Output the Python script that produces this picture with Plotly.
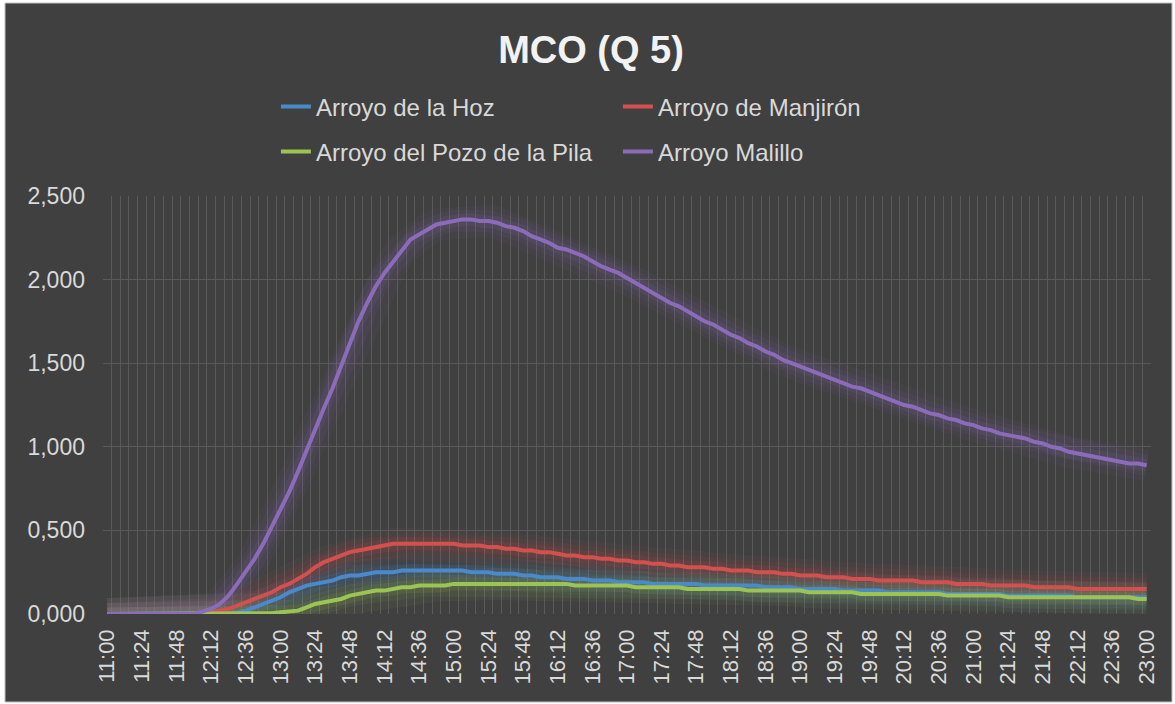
import plotly.graph_objects as go

# Time categories every 6 minutes from 11:00 to 23:00
times = [f"{(660 + 6 * k) // 60}:{(660 + 6 * k) % 60:02d}" for k in range(121)]
tick_text = [t if k % 4 == 0 else "" for k, t in enumerate(times)]

hoz = [
    0, 0, 0, 0, 0, 0, 0, 0, 0, 0,
    0, 0, 0, 0, 0.005, 0.01, 0.02, 0.04, 0.06, 0.08,
    0.10, 0.13, 0.15, 0.17, 0.18, 0.19, 0.20, 0.22, 0.23, 0.23,
    0.24, 0.25, 0.25, 0.25, 0.26, 0.26, 0.26, 0.26, 0.26, 0.26,
    0.26, 0.26, 0.25, 0.25, 0.25, 0.24, 0.24, 0.24, 0.23, 0.23,
    0.22, 0.22, 0.22, 0.21, 0.21, 0.21, 0.20, 0.20, 0.20, 0.19,
    0.19, 0.19, 0.19, 0.18, 0.18, 0.18, 0.18, 0.18, 0.18, 0.17,
    0.17, 0.17, 0.17, 0.17, 0.17, 0.17, 0.16, 0.16, 0.16, 0.16,
    0.15, 0.15, 0.15, 0.15, 0.15, 0.14, 0.14, 0.14, 0.14, 0.14,
    0.13, 0.13, 0.13, 0.13, 0.13, 0.13, 0.13, 0.12, 0.12, 0.12,
    0.12, 0.12, 0.12, 0.12, 0.11, 0.11, 0.11, 0.11, 0.11, 0.11,
    0.11, 0.11, 0.10, 0.10, 0.10, 0.10, 0.10, 0.10, 0.10, 0.10,
    0.10,
]

manjiron = [
    0, 0, 0, 0, 0, 0, 0, 0, 0, 0,
    0, 0, 0.01, 0.02, 0.03, 0.05, 0.07, 0.09, 0.11, 0.13,
    0.16, 0.18, 0.21, 0.24, 0.28, 0.31, 0.33, 0.35, 0.37, 0.38,
    0.39, 0.40, 0.41, 0.42, 0.42, 0.42, 0.42, 0.42, 0.42, 0.42,
    0.42, 0.41, 0.41, 0.41, 0.40, 0.40, 0.39, 0.39, 0.38, 0.38,
    0.37, 0.37, 0.36, 0.35, 0.35, 0.34, 0.34, 0.33, 0.33, 0.32,
    0.32, 0.31, 0.31, 0.30, 0.30, 0.29, 0.29, 0.28, 0.28, 0.28,
    0.27, 0.27, 0.26, 0.26, 0.26, 0.25, 0.25, 0.25, 0.24, 0.24,
    0.23, 0.23, 0.23, 0.22, 0.22, 0.22, 0.21, 0.21, 0.21, 0.20,
    0.20, 0.20, 0.20, 0.20, 0.19, 0.19, 0.19, 0.19, 0.18, 0.18,
    0.18, 0.18, 0.17, 0.17, 0.17, 0.17, 0.17, 0.16, 0.16, 0.16,
    0.16, 0.16, 0.15, 0.15, 0.15, 0.15, 0.15, 0.15, 0.15, 0.15,
    0.15,
]

pozo_pila = [
    0, 0, 0, 0, 0, 0, 0, 0, 0, 0,
    0, 0, 0, 0, 0, 0, 0, 0, 0, 0.005,
    0.01, 0.015, 0.02, 0.04, 0.06, 0.07, 0.08, 0.09, 0.11, 0.12,
    0.13, 0.14, 0.14, 0.15, 0.16, 0.16, 0.17, 0.17, 0.17, 0.17,
    0.18, 0.18, 0.18, 0.18, 0.18, 0.18, 0.18, 0.18, 0.18, 0.18,
    0.18, 0.18, 0.18, 0.18, 0.17, 0.17, 0.17, 0.17, 0.17, 0.17,
    0.17, 0.16, 0.16, 0.16, 0.16, 0.16, 0.16, 0.15, 0.15, 0.15,
    0.15, 0.15, 0.15, 0.15, 0.14, 0.14, 0.14, 0.14, 0.14, 0.14,
    0.14, 0.13, 0.13, 0.13, 0.13, 0.13, 0.13, 0.12, 0.12, 0.12,
    0.12, 0.12, 0.12, 0.12, 0.12, 0.12, 0.12, 0.11, 0.11, 0.11,
    0.11, 0.11, 0.11, 0.11, 0.10, 0.10, 0.10, 0.10, 0.10, 0.10,
    0.10, 0.10, 0.10, 0.10, 0.10, 0.10, 0.10, 0.10, 0.10, 0.09,
    0.09,
]

malillo = [
    0, 0, 0, 0, 0, 0, 0, 0, 0, 0,
    0, 0.015, 0.03, 0.06, 0.11, 0.18, 0.25, 0.33, 0.42, 0.52,
    0.62, 0.73, 0.85, 0.98, 1.10, 1.23, 1.35, 1.48, 1.62, 1.75,
    1.86, 1.96, 2.04, 2.11, 2.18, 2.24, 2.27, 2.30, 2.33, 2.34,
    2.35, 2.36, 2.36, 2.35, 2.35, 2.34, 2.32, 2.31, 2.29, 2.26,
    2.24, 2.22, 2.19, 2.18, 2.16, 2.14, 2.11, 2.08, 2.06, 2.04,
    2.01, 1.98, 1.95, 1.92, 1.89, 1.86, 1.84, 1.81, 1.78, 1.75,
    1.73, 1.70, 1.67, 1.65, 1.62, 1.60, 1.57, 1.55, 1.52, 1.50,
    1.48, 1.46, 1.44, 1.42, 1.40, 1.38, 1.36, 1.35, 1.33, 1.31,
    1.29, 1.27, 1.25, 1.24, 1.22, 1.20, 1.19, 1.17, 1.16, 1.14,
    1.13, 1.11, 1.10, 1.08, 1.07, 1.06, 1.05, 1.03, 1.02, 1.00,
    0.99, 0.97, 0.96, 0.95, 0.94, 0.93, 0.92, 0.91, 0.90, 0.90,
    0.89,
]

series = [
    ("Arroyo de la Hoz", hoz, (74, 137, 204), "legend"),
    ("Arroyo de Manjirón", manjiron, (212, 80, 78), "legend"),
    ("Arroyo del Pozo de la Pila", pozo_pila, (156, 196, 83), "legend2"),
    ("Arroyo Malillo", malillo, (140, 108, 186), "legend2"),
]

fig = go.Figure()

# Soft glow beneath each line
for name, vals, rgb, _ in series:
    for w, a in [(32, 0.06), (22, 0.08), (13, 0.11)]:
        fig.add_trace(go.Scatter(
            x=times, y=vals, mode="lines",
            line=dict(color=f"rgba({rgb[0]},{rgb[1]},{rgb[2]},{a})", width=w),
            showlegend=False, hoverinfo="skip",
        ))

for name, vals, rgb, leg in series:
    fig.add_trace(go.Scatter(
        x=times, y=vals, mode="lines", name=name, legend=leg,
        line=dict(color=f"rgb({rgb[0]},{rgb[1]},{rgb[2]})", width=4),
    ))

text_color = "#d9d9d9"
grid_color = "#5a5a5a"
font_family = "Liberation Sans, Arial, sans-serif"

legend_common = dict(
    orientation="h", xanchor="left", yanchor="middle",
    entrywidth=297, entrywidthmode="pixels",
    font=dict(size=24, color=text_color, family=font_family),
    bgcolor="rgba(0,0,0,0)", itemclick=False,
)

fig.update_layout(
    width=1175, height=704, autosize=False,
    margin=dict(l=103, r=24, t=196, b=90),
    paper_bgcolor="#ffffff",
    plot_bgcolor="rgba(0,0,0,0)",
    separators=",.",
    font=dict(family=font_family, color=text_color),
    title=dict(
        text="<b>MCO (Q 5)</b>", x=0.503, xanchor="center",
        y=1 - 50 / 704, yanchor="middle",
        font=dict(size=38, color="#f2f2f2", family=font_family),
    ),
    legend=dict(x=0.165, y=1.2129, **legend_common),
    legend2=dict(x=0.165, y=1.1053, **legend_common),
    xaxis=dict(
        type="category", tickmode="array", tickvals=times, ticktext=tick_text,
        tickson="boundaries", ticks="", showgrid=True, gridcolor=grid_color,
        gridwidth=1, tickangle=-90, showline=False, zeroline=False,
        tickfont=dict(size=22, color=text_color, family=font_family),
        range=[-0.5, 120.5], ticklabelstandoff=10,
    ),
    yaxis=dict(
        range=[0, 2.5], tickmode="array",
        tickvals=[0, 0.5, 1.0, 1.5, 2.0, 2.5], tickformat=".3f",
        showgrid=True, gridcolor=grid_color, gridwidth=1,
        zeroline=False, showline=False, ticks="",
        tickfont=dict(size=23, color=text_color, family=font_family),
        ticklabelstandoff=17,
    ),
    shapes=[dict(
        type="rect", xref="paper", yref="paper", layer="below",
        x0=(5 - 103) / 1048, x1=(1172 - 103) / 1048,
        y0=(614 - 702) / 418, y1=(614 - 3) / 418,
        fillcolor="#404040", line=dict(color="#bfbfbf", width=1),
    )],
)

fig.write_html("out.html")
